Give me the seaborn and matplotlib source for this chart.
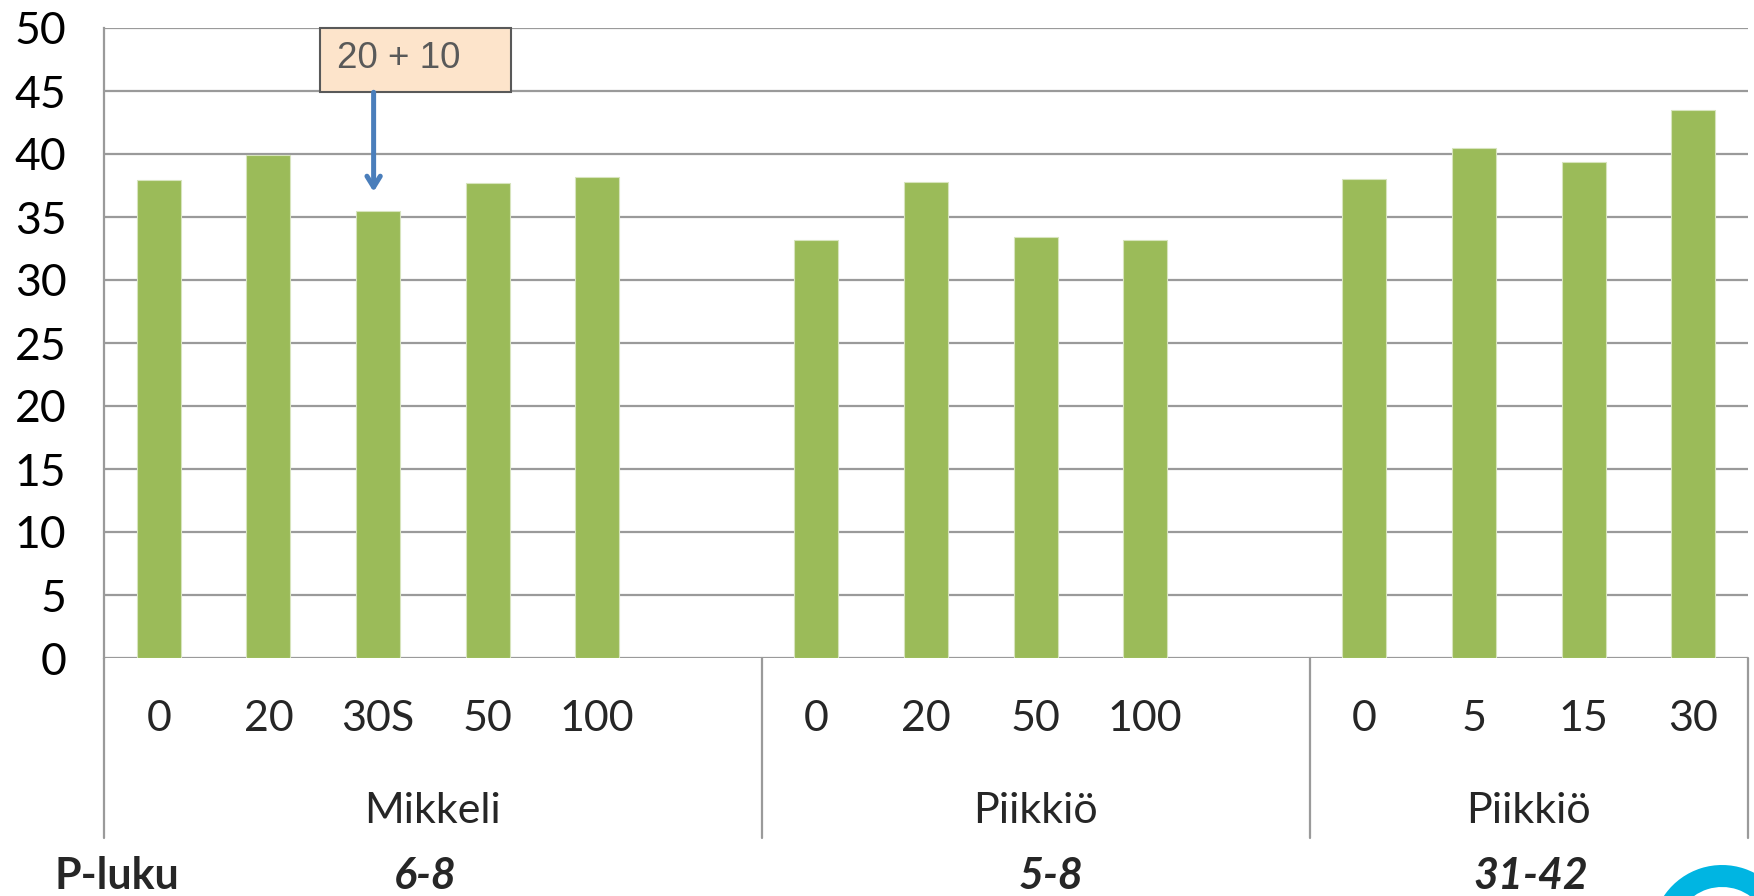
import matplotlib
matplotlib.use("Agg")
import matplotlib.pyplot as plt
import matplotlib.transforms as mtransforms
from matplotlib.patches import Rectangle, Wedge
import seaborn as sns
import pandas as pd

# --- data -------------------------------------------------------------
mikkeli_doses = ["0", "20", "30S", "50", "100"]
mikkeli_values = [37.9, 39.9, 35.5, 37.7, 38.2]

piikkio1_doses = ["0", "20", "50", "100"]
piikkio1_values = [33.2, 37.8, 33.4, 33.2]

piikkio2_doses = ["0", "5", "15", "30"]
piikkio2_values = [38.0, 40.5, 39.4, 43.5]

group_names = ["Mikkeli", "Piikkiö", "Piikkiö"]
p_luku_values = ["6-8", "5-8", "31-42"]
y_ticks = [0, 5, 10, 15, 20, 25, 30, 35, 40, 45, 50]
note_text = "20 + 10"

# --- build the category axis (an empty slot closes the first two groups)
groups = [
    (group_names[0], mikkeli_doses, mikkeli_values, True),
    (group_names[1], piikkio1_doses, piikkio1_values, True),
    (group_names[2], piikkio2_doses, piikkio2_values, False),
]
rows, order, tick_text, bounds = [], [], [], [-0.5]
for gi, (name, doses, vals, gap) in enumerate(groups):
    for d, v in zip(doses, vals):
        key = f"{gi}|{d}"
        rows.append({"slot": key, "value": v})
        order.append(key)
        tick_text.append(d)
    if gap:
        order.append(f"{gi}|gap")
        tick_text.append("")
    bounds.append(len(order) - 0.5)
df = pd.DataFrame(rows)

sns.set_theme(style="white")
plt.rcParams["font.family"] = ["Lato", "DejaVu Sans"]

W, H = 1754, 896
fig = plt.figure(figsize=(W / 100, H / 100), dpi=100)
ax = fig.add_axes([104 / W, 1 - 658 / H, (1748 - 104) / W, (658 - 28) / H])

grid_c = "#9A9A9A"
sns.barplot(data=df, x="slot", y="value", order=order, color="#9BBB59",
            saturation=1, width=0.4, edgecolor="#D7E4BD", linewidth=0.8, ax=ax,
            zorder=3)

ax.set_xlim(-0.5, len(order) - 0.5)
ax.set_ylim(0, 50)
ax.set_yticks(y_ticks)
ax.set_yticklabels([str(t) for t in y_ticks], fontsize=32, color="black")
ax.tick_params(axis="y", length=0, pad=27)
ax.set_xticks([])
ax.set_xlabel("")
ax.set_ylabel("")
for y in y_ticks:
    ax.axhline(y, color=grid_c, lw=1.6, zorder=1)
for s in ["top", "right", "bottom"]:
    ax.spines[s].set_visible(False)
ax.spines["left"].set_color(grid_c)
ax.spines["left"].set_linewidth(1.6)

# category axis below the plot
trans = mtransforms.blended_transform_factory(ax.transData, ax.transAxes)
ax_h = 658 - 28
def yfrac(px):
    return -(px - 658) / ax_h

for b in bounds:
    ax.plot([b, b], [0, yfrac(838)], color=grid_c, lw=1.6, transform=trans,
            clip_on=False)
for i, t in enumerate(tick_text):
    if t:
        ax.text(i, yfrac(719), t, transform=trans, ha="center", va="center",
                fontsize=31)
for gi in range(len(groups)):
    cx = (bounds[gi] + bounds[gi + 1]) / 2
    ax.text(cx, yfrac(811), group_names[gi], transform=trans, ha="center",
            va="center", fontsize=31)

# P-luku row
fig.text(117 / W, 1 - 876 / H, "P-luku", ha="center", va="center",
         fontsize=31, fontweight="bold")
p_x = [2.43, 8.14, 12.52]
for x, t in zip(p_x, p_luku_values):
    ax.text(x, yfrac(876), t, transform=trans, ha="center", va="center",
            fontsize=31, fontweight="bold", fontstyle="italic")

# callout box with arrow pointing at the 30S bar
box = Rectangle((1.47, 44.9), 3.21 - 1.47, 50 - 44.9, facecolor="#FDE4CB",
                edgecolor="#595959", lw=1.5, zorder=5, clip_on=False)
ax.add_patch(box)
ax.text(1.63, 47.55, note_text, fontsize=26.5, color="#595959",
        family=["Liberation Sans", "DejaVu Sans"], va="center", ha="left",
        zorder=6)
ax.annotate("", xy=(1.96, 37.0), xytext=(1.96, 44.9),
            arrowprops=dict(arrowstyle="->,head_length=0.65,head_width=0.4",
                            color="#4A7EBB", lw=3.6, shrinkA=0, shrinkB=0),
            zorder=6)

# corner logo
logo = Wedge((17.22, -0.39), 0.70, 35, 180, width=0.22, facecolor="#00B5E2",
             edgecolor="none", transform=fig.dpi_scale_trans)
fig.add_artist(logo)

fig.savefig("out.png", dpi=100)
